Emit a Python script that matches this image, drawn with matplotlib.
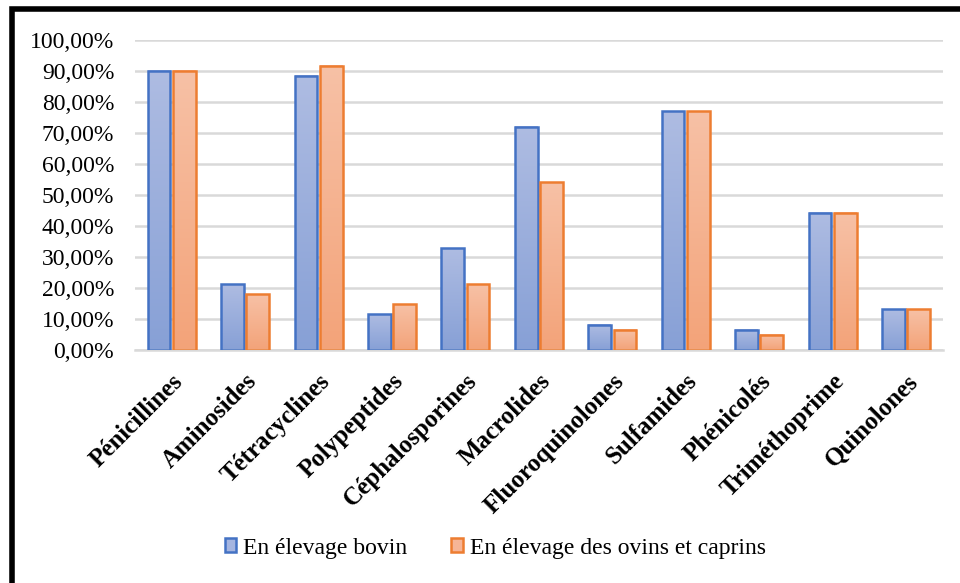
import numpy as np
import matplotlib.pyplot as plt
from matplotlib.patches import Rectangle, Patch
from matplotlib.colors import LinearSegmentedColormap
from matplotlib.ticker import FuncFormatter

plt.rcParams['font.family'] = 'Liberation Serif'

categories = ['Pénicillines', 'Aminosides', 'Tétracyclines', 'Polypeptides',
              'Céphalosporines', 'Macrolides', 'Fluoroquinolones', 'Sulfamides',
              'Phénicolés', 'Triméthoprime', 'Quinolones']
bovin = [0.902, 0.213, 0.885, 0.115, 0.328, 0.721, 0.082, 0.770, 0.066, 0.443, 0.131]
ovins_caprins = [0.902, 0.180, 0.918, 0.148, 0.213, 0.541, 0.066, 0.770, 0.049, 0.443, 0.131]
series_names = ['En élevage bovin', 'En élevage des ovins et caprins']

blue_edge, orange_edge = '#4472c4', '#ed7d31'
blue_cmap = LinearSegmentedColormap.from_list('b', ['#87a0d6', '#aebce2'])
orange_cmap = LinearSegmentedColormap.from_list('o', ['#f3a379', '#f7c1a6'])

fig = plt.figure(figsize=(9.6, 5.83), dpi=100)
ax = fig.add_axes([0.1406, 0.3997, 0.8414, 0.5313])

x = np.arange(len(categories))
width = 0.31
gap = 0.035
grad = np.linspace(0, 1, 256).reshape(-1, 1)

def gradient_bars(xpos, vals, cmap, edge):
    bars = ax.bar(xpos, vals, width, facecolor='none', edgecolor=edge, linewidth=1.8, zorder=3)
    for b in bars:
        x0, w, h = b.get_x(), b.get_width(), b.get_height()
        ax.imshow(grad, cmap=cmap, origin='lower', aspect='auto',
                  extent=(x0, x0 + w, 0, h), zorder=2)
    return bars

gradient_bars(x - width / 2 - gap / 2, bovin, blue_cmap, blue_edge)
gradient_bars(x + width / 2 + gap / 2, ovins_caprins, orange_cmap, orange_edge)

ax.set_xlim(-0.5, len(categories) - 0.5)
ax.set_ylim(0, 1.0)
ax.set_yticks(np.arange(0, 1.01, 0.1))
ax.yaxis.set_major_formatter(FuncFormatter(lambda v, p: f'{v * 100:.2f}%'.replace('.', ',')))
ax.grid(axis='y', color='#d9d9d9', linewidth=1.8, zorder=0)
ax.set_axisbelow(True)
for s in ['top', 'right', 'left']:
    ax.spines[s].set_visible(False)
ax.spines['bottom'].set_color('#d9d9d9')
ax.spines['bottom'].set_linewidth(1.8)
ax.tick_params(axis='y', length=0, labelsize=17, pad=15)
ax.set_xticks(x)
ax.set_xticklabels(categories, rotation=45, ha='right', rotation_mode='anchor',
                   fontweight='bold', fontsize=18)
ax.tick_params(axis='x', length=0, pad=14)

handles = [Patch(facecolor='#a5b5e0', edgecolor=blue_edge, linewidth=1.8),
           Patch(facecolor='#f6b597', edgecolor=orange_edge, linewidth=1.8)]
fig.legend(handles, series_names, loc='center', bbox_to_anchor=(0.516, 0.06), ncol=2,
           frameon=False, fontsize=17, handlelength=0.5, handleheight=0.5,
           handletextpad=0.3, columnspacing=1.85)

# thick black frame around the chart (right and bottom edges cut off)
fig.patches.append(Rectangle((11.5 / 960, -0.1), 1.2, 1 - 9.5 / 583 + 0.1,
                             transform=fig.transFigure, fill=False,
                             edgecolor='black', linewidth=4))

fig.savefig('out.png', dpi=100)
